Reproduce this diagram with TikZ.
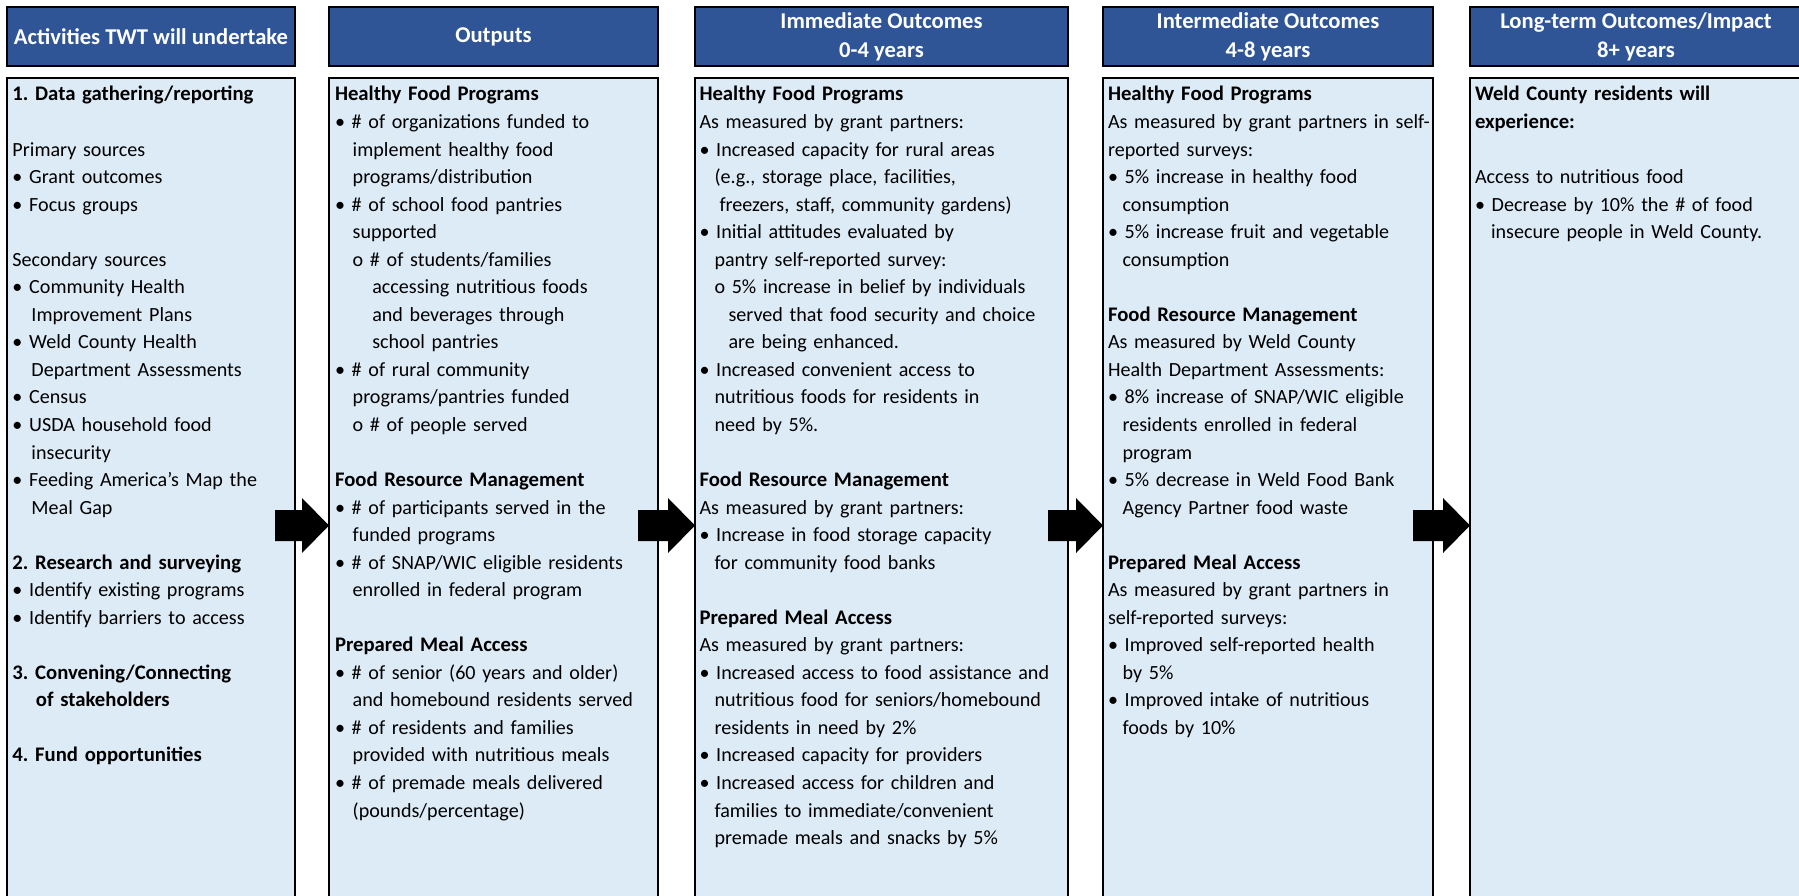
\documentclass[tikz,border=0pt]{standalone}
\usepackage{fontspec}
\setmainfont{Carlito}
\usetikzlibrary{calc}
\definecolor{hdrblue}{HTML}{2F5597}
\definecolor{boxblue}{HTML}{DDEBF7}
\frenchspacing
\newcommand\mline[2][0pt]{\hspace*{#1}#2\par}
\newcommand\mblank{\mbox{}\par}
\newcommand\bh[1]{{\fontsize{20.7}{27.54}\selectfont\bfseries #1}}
\newcommand\flowarrow[2]{%
  \fill[blockarrow] ($(#1.east |- ay)+(-20,-15.5)$) -- ($(#2.west |- ay)+(-27,-15.5)$)
    -- ($(#2.west |- ay)+(-27,-27.5)$) -- (#2.west |- ay)
    -- ($(#2.west |- ay)+(-27,27.5)$) -- ($(#2.west |- ay)+(-27,15.5)$)
    -- ($(#1.east |- ay)+(-20,15.5)$) -- cycle;}
\begin{document}
\begin{tikzpicture}[x=1pt,y=-1pt,
  hdr/.style={draw=black, line width=2.2pt, fill=hdrblue, anchor=north west,
    inner sep=0pt, outer sep=0pt, minimum height=59pt, text=white,
    font=\fontsize{22.6}{29}\selectfont\bfseries, align=center},
  box/.style={draw=black, line width=2.2pt, fill=boxblue, anchor=north west,
    inner sep=0pt, outer sep=0pt, minimum height=830pt},
  body/.style={anchor=base west, inner sep=0pt, outer sep=0pt, text width=420pt,
    align=left, font=\fontsize{20.1}{27.54}\selectfont},
  blockarrow/.style={fill=black}
]
\clip (0,0) rectangle (1799,896);
\fill[white] (0,0) rectangle (1799,896);

% headers
\node[hdr, minimum width=288pt] (h1) at (7,7) {Activities TWT will undertake};
\node[hdr, minimum width=329pt] (h2) at (329,7) {Outputs};
\node[hdr, minimum width=373pt] (h3) at (695,7) {Immediate Outcomes\\0-4 years};
\node[hdr, minimum width=330pt] (h4) at (1103,7) {Intermediate Outcomes\\4-8 years};
\node[hdr, minimum width=332pt] (h5) at (1470,7) {Long-term Outcomes/Impact\\8+ years};

% content boxes
\node[box, minimum width=288pt] (c1) at (7,78) {};
\node[box, minimum width=329pt] (c2) at (329,78) {};
\node[box, minimum width=373pt] (c3) at (695,78) {};
\node[box, minimum width=330pt] (c4) at (1103,78) {};
\node[box, minimum width=332pt] (c5) at (1470,78) {};

\coordinate (ay) at (0,525.5);

% column 1
\node[body] (t1) at (12.5,101) {%
\mline{\bh{1. Data gathering/reporting}}
\mblank
\mline{Primary sources}
\mline{• Grant outcomes}
\mline{• Focus groups}
\mblank
\mline{Secondary sources}
\mline{• Community Health}
\mline[19pt]{Improvement Plans}
\mline{• Weld County Health}
\mline[19pt]{Department Assessments}
\mline{• Census}
\mline{• USDA household food}
\mline[19pt]{insecurity}
\mline{• Feeding America’s Map the}
\mline[19pt]{Meal Gap}
\mblank
\mline{\bh{2. Research and surveying}}
\mline{• Identify existing programs}
\mline{• Identify barriers to access}
\mblank
\mline{\bh{3. Convening/Connecting}}
\mline[23.5pt]{\bh{of stakeholders}}
\mblank
\mline{\bh{4. Fund opportunities}}};

% column 2
\node[body] (t2) at (335,101) {%
\mline{\bh{Healthy Food Programs}}
\mline{• \# of organizations funded to}
\mline[17.7pt]{implement healthy food}
\mline[17.7pt]{programs/distribution}
\mline{• \# of school food pantries}
\mline[17.7pt]{supported}
\mline[17.7pt]{o \# of students/families}
\mline[37.3pt]{accessing nutritious foods}
\mline[37.3pt]{and beverages through}
\mline[37.3pt]{school pantries}
\mline{• \# of rural community}
\mline[17.7pt]{programs/pantries funded}
\mline[17.7pt]{o \# of people served}
\mblank
\mline{\bh{Food Resource Management}}
\mline{• \# of participants served in the}
\mline[17.7pt]{funded programs}
\mline{• \# of SNAP/WIC eligible residents}
\mline[17.7pt]{enrolled in federal program}
\mblank
\mline{\bh{Prepared Meal Access}}
\mline{• \# of senior (60 years and older)}
\mline[17.7pt]{and homebound residents served}
\mline{• \# of residents and families}
\mline[17.7pt]{provided with nutritious meals}
\mline{• \# of premade meals delivered}
\mline[17.7pt]{(pounds/percentage)}};

% column 3
\node[body] (t3) at (699.5,101) {%
\mline{\bh{Healthy Food Programs}}
\mline{As measured by grant partners:}
\mline{• Increased capacity for rural areas}
\mline[15pt]{(e.g., storage place, facilities,}
\mline[20pt]{freezers, staff, community gardens)}
\mline{• Initial attitudes evaluated by}
\mline[15pt]{pantry self-reported survey:}
\mline[15pt]{o 5\% increase in belief by individuals}
\mline[29pt]{served that food security and choice}
\mline[29pt]{are being enhanced.}
\mline{• Increased convenient access to}
\mline[15pt]{nutritious foods for residents in}
\mline[15pt]{need by 5\%.}
\mblank
\mline{\bh{Food Resource Management}}
\mline{As measured by grant partners:}
\mline{• Increase in food storage capacity}
\mline[15pt]{for community food banks}
\mblank
\mline{\bh{Prepared Meal Access}}
\mline{As measured by grant partners:}
\mline{• Increased access to food assistance and}
\mline[15pt]{nutritious food for seniors/homebound}
\mline[15pt]{residents in need by 2\%}
\mline{• Increased capacity for providers}
\mline{• Increased access for children and}
\mline[15pt]{families to immediate/convenient}
\mline[15pt]{premade meals and snacks by 5\%}};

% column 4
\node[body] (t4) at (1108,101) {%
\mline{\bh{Healthy Food Programs}}
\mline{As measured by grant partners in self-}
\mline{reported surveys:}
\mline{• 5\% increase in healthy food}
\mline[14.6pt]{consumption}
\mline{• 5\% increase fruit and vegetable}
\mline[14.6pt]{consumption}
\mblank
\mline{\bh{Food Resource Management}}
\mline{As measured by Weld County}
\mline{Health Department Assessments:}
\mline{• 8\% increase of SNAP/WIC eligible}
\mline[14.6pt]{residents enrolled in federal}
\mline[14.6pt]{program}
\mline{• 5\% decrease in Weld Food Bank}
\mline[14.6pt]{Agency Partner food waste}
\mblank
\mline{\bh{Prepared Meal Access}}
\mline{As measured by grant partners in}
\mline{self-reported surveys:}
\mline{• Improved self-reported health}
\mline[14.6pt]{by 5\%}
\mline{• Improved intake of nutritious}
\mline[14.6pt]{foods by 10\%}};

% column 5
\node[body] (t5) at (1475,101) {%
\mline{\bh{Weld County residents will}}
\mline{\bh{experience:}}
\mblank
\mline{Access to nutritious food}
\mline{• Decrease by 10\% the \# of food}
\mline[16pt]{insecure people in Weld County.}};

% block arrows
\flowarrow{c1}{c2}
\flowarrow{c2}{c3}
\flowarrow{c3}{c4}
\flowarrow{c4}{c5}
\end{tikzpicture}
\end{document}
